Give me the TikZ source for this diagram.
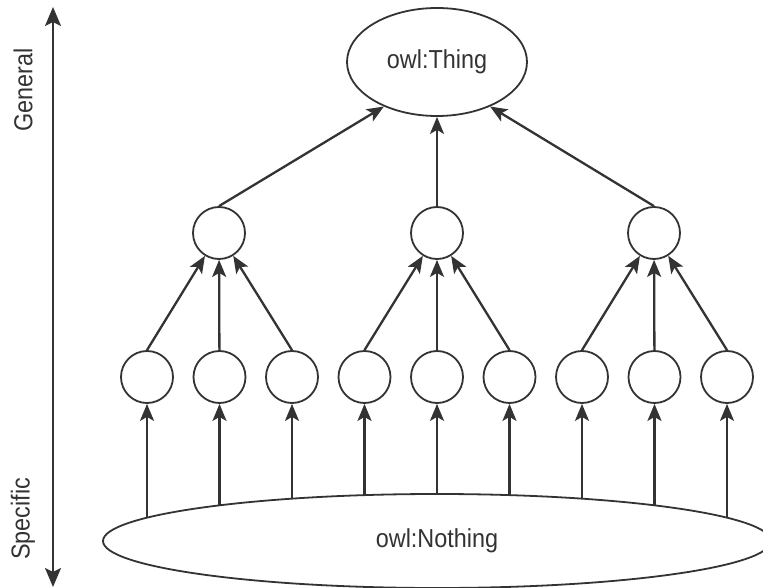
\documentclass[tikz,border=0pt]{standalone}
\usepackage{fontspec}
\setmainfont[FakeStretch=0.9]{Liberation Sans}
\usepackage{tikz}
\usetikzlibrary{arrows.meta,shapes.geometric,backgrounds}
\definecolor{ink}{HTML}{333333}
\tikzset{
  cls/.style={circle,draw=ink,line width=1.8pt,fill=white,minimum size=52pt,inner sep=0pt},
  bigoval/.style={ellipse,draw=ink,line width=1.8pt,fill=white,inner sep=0pt,text=ink},
  lbl/.style={text=ink},
  every node/.style={font=\fontsize{26}{30}\selectfont}
}
\tikzstyle{arrow} = [draw=ink,line width=2.3pt,-{Stealth[length=17pt,width=14pt,inset=4pt]}]
\tikzstyle{axisline} = [draw=ink,line width=2.3pt,{Stealth[length=19pt,width=16pt,inset=4pt]}-{Stealth[length=19pt,width=16pt,inset=4pt]}]

\begin{document}
\begin{tikzpicture}[x=1pt,y=-1pt]
  \useasboundingbox (0,0) rectangle (763,588);
  % general / specific axis
  \coordinate (gen) at (53,7);
  \coordinate (spec) at (53,587);
  \draw[axisline] (gen) -- (spec);
  \node[lbl,rotate=90] (general) at (23,90) {General};
  \node[lbl,rotate=90] (specific) at (23,519) {Specific};
  % top and bottom classes
  \node[bigoval,minimum width=180pt,minimum height=108pt] (thing) at (437,62) {owl:Thing};
  \node[bigoval,minimum width=668pt,minimum height=94pt] (nothing) at (437,541) {owl:Nothing};
  % class hierarchy
  \foreach \i/\x in {1/219,2/437,3/654}
    \node[cls] (m\i) at (\x,233) {};
  \foreach \i in {1,...,9}
    \node[cls] (b\i) at ({147+72.5*(\i-1)},377) {};
  \draw[arrow] (m1.north) -- (thing.220);
  \draw[arrow] (m2) -- (thing);
  \draw[arrow] (m3.north) -- (thing.320);
  \foreach \m/\a/\b/\c in {1/1/2/3,2/4/5/6,3/7/8/9} {
    \draw[arrow] (b\a.north) -- (m\m);
    \draw[arrow] (b\b) -- (m\m);
    \draw[arrow] (b\c.north) -- (m\m);
  }
  \begin{scope}[on background layer]
    \foreach \i in {1,...,9}
      \draw[arrow] (b\i |- nothing.center) -- (b\i);
  \end{scope}
\end{tikzpicture}
\end{document}
